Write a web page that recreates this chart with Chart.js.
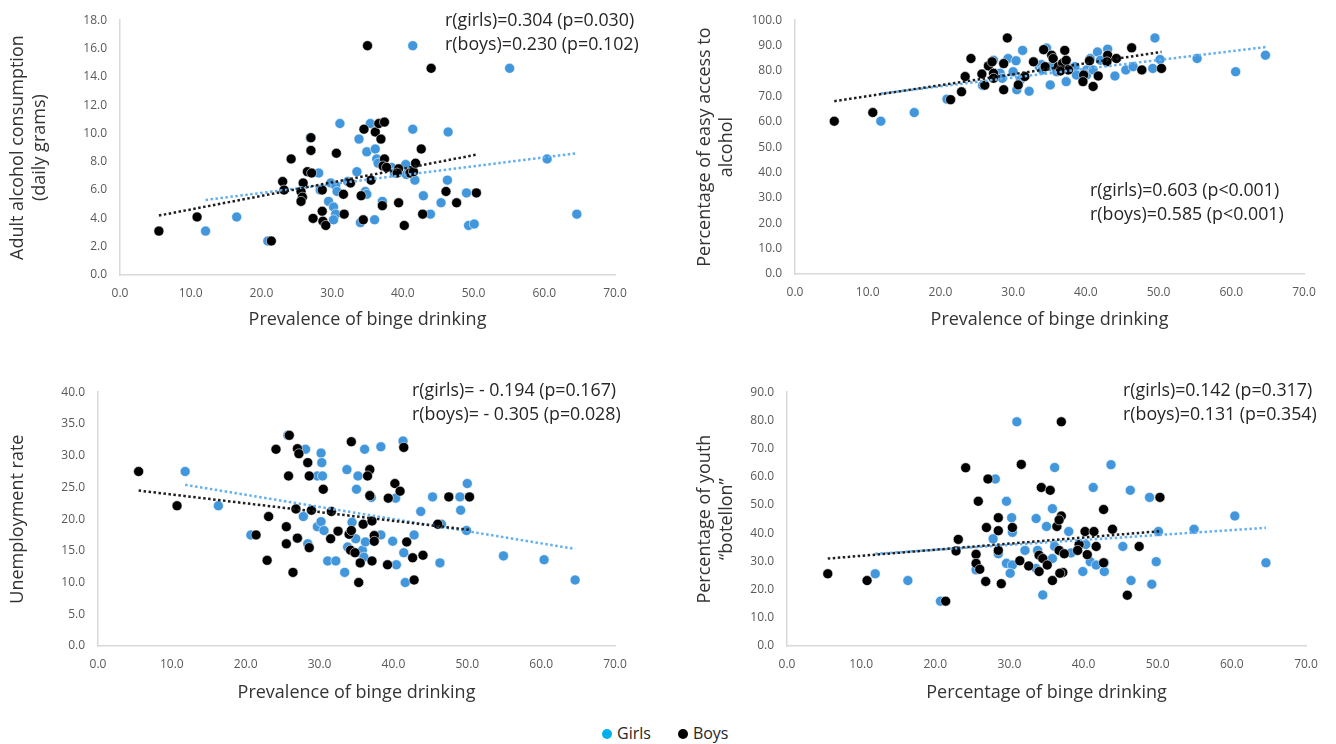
<!DOCTYPE html>
<html>
<head>
<meta charset="utf-8">
<script src="https://cdn.jsdelivr.net/npm/chart.js@4.4.1/dist/chart.umd.min.js"></script>
<style>
  body { margin: 0; background: #fff; width: 1336px; height: 744px; position: relative; overflow: hidden; font-family: 'Open Sans', 'Noto Sans', sans-serif; color: #262626; }
  canvas { position: absolute; }
  .note { position: absolute; font-size: 17.8px; line-height: 23.5px; white-space: nowrap; }
  .legend { position: absolute; top: 722px; left: 602px; font-size: 16px; line-height: 22px; white-space: nowrap; }
  .legend span.dot { display: inline-block; width: 10px; height: 10px; border-radius: 50%; margin-right: 5px; vertical-align: 0px; }
</style>
</head>
<body>
<canvas id="alcoholChart" width="668" height="340" style="left:0;top:0"></canvas>
<canvas id="accessChart" width="668" height="340" style="left:668px;top:0"></canvas>
<canvas id="unemploymentChart" width="668" height="340" style="left:0;top:372px"></canvas>
<canvas id="botellonChart" width="668" height="340" style="left:668px;top:372px"></canvas>

<div class="note" style="left:445px;top:8px">r(girls)=0.304 (p=0.030)<br>r(boys)=0.230 (p=0.102)</div>
<div class="note" style="left:1090px;top:178px">r(girls)=0.603 (p&lt;0.001)<br>r(boys)=0.585 (p&lt;0.001)</div>
<div class="note" style="left:412px;top:378px">r(girls)= - 0.194 (p=0.167)<br>r(boys)= - 0.305 (p=0.028)</div>
<div class="note" style="left:1123px;top:378px">r(girls)=0.142 (p=0.317)<br>r(boys)=0.131 (p=0.354)</div>

<div class="legend"><span class="dot" style="background:#00b0f0"></span>Girls<span style="display:inline-block;width:27px"></span><span class="dot" style="background:#000"></span>Boys</div>

<script>
// x axis is the same on every panel
const bingeTicks = [0, 10, 20, 30, 40, 50, 60, 70];

// Adult alcohol consumption (daily grams) vs binge drinking
const alcoholTicks = [0, 2, 4, 6, 8, 10, 12, 14, 16, 18];
const alcoholGirls = [[12.1,3.1],[16.5,4.1],[20.9,2.4],[26.9,9.7],[27.0,8.8],[28.1,7.2],[28.3,6.0],[29.8,6.5],[30.5,6.3],[30.7,5.9],[29.5,5.2],[30.2,4.8],[30.5,4.3],[30.2,3.9],[31.1,10.7],[32.2,6.6],[33.5,7.3],[33.8,9.6],[35.4,10.7],[34.9,8.7],[36.1,8.9],[36.3,8.2],[36.5,7.9],[38.4,7.6],[38.8,7.2],[40.4,7.8],[40.5,7.1],[41.7,6.7],[34.7,5.9],[34.9,5.7],[37.1,5.2],[34.0,3.7],[36.0,3.9],[41.4,10.3],[46.4,10.1],[46.3,6.7],[42.9,5.6],[45.4,5.1],[43.9,4.3],[49.0,5.8],[49.3,3.5],[50.1,3.6],[41.4,16.2],[55.1,14.6],[60.4,8.2],[64.6,4.3]];
const alcoholBoys = [[5.5,3.1],[10.9,4.1],[21.4,2.4],[23.0,6.6],[23.2,6.0],[24.2,8.2],[25.9,6.5],[25.6,5.9],[25.8,5.5],[25.6,5.2],[26.5,7.3],[27.1,7.2],[27.0,9.7],[27.0,8.8],[30.6,8.6],[28.6,6.0],[28.6,4.5],[27.3,4.0],[28.7,3.8],[29.1,3.5],[31.6,5.7],[31.7,4.3],[32.6,6.5],[34.1,5.6],[34.4,3.9],[34.5,10.3],[36.1,10.1],[36.6,10.7],[37.4,10.8],[36.9,9.6],[37.4,8.2],[37.2,7.7],[37.7,7.6],[35.5,6.7],[37.1,4.9],[39.4,7.5],[39.2,7.2],[41.0,7.2],[41.5,7.3],[41.8,7.9],[42.6,8.9],[39.4,5.1],[40.2,3.5],[42.8,4.3],[46.1,5.9],[47.6,5.1],[50.4,5.8],[35.0,16.2],[44.0,14.6]];
const alcoholTrendGirls = [[12.1,5.3],[64.6,8.6]];
const alcoholTrendBoys = [[5.5,4.2],[50.4,8.5]];

// Percentage of easy access to alcohol vs binge drinking
const accessTicks = [0, 10, 20, 30, 40, 50, 60, 70, 80, 90, 100];
const accessGirls = [[11.8,60.2],[16.4,63.6],[20.9,68.9],[25.8,74.3],[27.4,79.1],[27.3,84.2],[28.2,79.1],[28.5,77.1],[29.3,84.9],[30.0,79.7],[30.4,84.0],[31.3,88.1],[30.5,72.6],[32.2,72.0],[31.0,76.5],[33.6,81.7],[33.9,82.5],[34.0,80.4],[34.6,89.0],[35.1,81.7],[35.5,82.3],[35.1,74.5],[36.0,79.7],[37.3,75.8],[37.4,81.7],[37.5,80.4],[38.5,81.7],[38.7,78.4],[40.1,80.4],[40.1,78.4],[40.6,84.9],[41.0,80.4],[41.6,87.5],[42.0,84.2],[43.0,88.6],[44.0,78.0],[45.5,80.4],[46.5,81.7],[49.2,81.0],[50.2,84.5],[49.5,93.0],[55.3,84.9],[60.6,79.7],[64.7,86.2]];
const accessBoys = [[5.4,60.2],[10.7,63.6],[21.4,68.7],[22.9,71.8],[23.4,77.8],[24.2,84.9],[25.7,78.8],[26.1,74.4],[26.6,82.0],[27.1,83.6],[27.3,79.1],[27.3,77.1],[28.7,82.9],[28.7,72.6],[29.2,93.0],[30.7,74.5],[31.6,77.8],[32.8,83.6],[34.2,88.4],[34.4,81.7],[35.3,86.2],[35.5,84.9],[36.2,81.7],[36.8,83.0],[37.1,88.1],[37.3,84.2],[37.6,80.4],[36.5,80.0],[39.7,78.4],[39.6,75.8],[40.5,84.0],[41.0,73.9],[41.7,78.0],[43.0,86.2],[42.9,83.6],[44.2,84.9],[46.3,89.1],[47.7,80.4],[50.4,81.0]];
const accessTrendGirls = [[11.8,71.1],[64.7,89.4]];
const accessTrendBoys = [[5.4,68.1],[50.4,87.5]];

// Unemployment rate vs binge drinking
const unemploymentTicks = [0, 5, 10, 15, 20, 25, 30, 35, 40];
const unemploymentGirls = [[11.8,27.5],[16.3,22.1],[20.7,17.5],[25.7,33.2],[28.1,31.0],[27.0,17.0],[27.8,20.4],[29.7,26.8],[30.4,26.8],[30.2,30.4],[30.3,28.9],[28.4,16.1],[29.7,18.8],[30.2,19.6],[30.6,18.2],[31.1,13.4],[32.2,13.4],[33.4,11.6],[33.7,27.8],[35.2,26.8],[35.0,24.7],[36.1,31.0],[37.0,23.4],[34.4,19.5],[34.9,16.9],[33.8,15.6],[35.8,15.1],[36.0,14.0],[36.2,16.4],[38.3,31.4],[41.3,32.3],[40.3,23.3],[50.0,25.6],[45.3,23.5],[43.7,21.2],[49.1,21.4],[49.0,23.5],[46.5,19.2],[49.9,18.2],[42.8,17.5],[38.3,17.5],[39.9,16.5],[41.4,14.7],[46.3,13.1],[40.4,12.8],[41.6,10.0],[54.9,14.2],[60.4,13.6],[64.6,10.4]];
const unemploymentBoys = [[5.5,27.5],[10.7,22.1],[21.4,17.5],[23.1,20.4],[22.9,13.5],[24.1,31.0],[25.9,33.2],[25.8,26.8],[25.5,18.8],[25.5,16.1],[26.4,11.6],[26.8,21.6],[27.0,31.1],[27.2,30.3],[27.0,17.0],[28.4,28.9],[28.6,26.8],[28.9,21.4],[30.5,24.7],[28.6,15.5],[31.5,16.9],[31.6,21.2],[32.5,18.1],[34.3,32.2],[36.8,27.8],[36.5,26.8],[36.8,23.7],[34.0,17.6],[34.3,18.2],[34.2,15.1],[34.8,14.7],[35.5,13.1],[37.1,13.4],[35.3,10.0],[35.9,19.2],[37.1,19.7],[37.4,17.4],[37.4,16.5],[41.4,31.3],[40.2,25.6],[40.9,24.4],[39.3,23.3],[47.5,23.5],[50.3,23.5],[46.0,19.2],[41.8,16.4],[42.6,13.9],[44.0,14.3],[39.2,12.8],[42.8,10.4]];
const unemploymentTrendGirls = [[11.8,25.4],[64.6,15.3]];
const unemploymentTrendBoys = [[5.5,24.5],[50.3,18.3]];

// Percentage of youth "botellon" vs binge drinking
const botellonTicks = [0, 10, 20, 30, 40, 50, 60, 70, 80, 90];
const botellonGirls = [[11.9,25.6],[16.3,23.2],[20.7,15.9],[25.5,27.0],[26.8,22.9],[28.1,59.2],[27.8,38.0],[28.5,32.7],[29.6,51.3],[30.3,45.5],[30.4,40.3],[31.0,79.5],[29.6,29.3],[30.4,28.7],[30.1,25.8],[32.1,33.9],[33.6,45.2],[33.8,33.9],[36.1,63.3],[35.8,48.7],[35.0,42.4],[34.5,18.1],[33.6,27.5],[36.1,35.3],[35.8,31.0],[38.0,40.6],[43.7,64.3],[41.3,56.2],[46.3,55.2],[48.9,52.7],[60.4,46.1],[50.1,40.6],[54.9,41.4],[40.3,36.0],[45.3,35.3],[38.3,33.0],[40.9,29.9],[41.7,28.7],[42.8,29.5],[49.8,29.9],[64.6,29.5],[39.9,26.4],[42.8,26.4],[46.4,23.2],[49.2,21.9]];
const botellonBoys = [[5.5,25.6],[10.8,23.2],[21.4,15.9],[23.1,37.8],[22.8,33.7],[24.1,63.2],[25.8,51.3],[25.5,32.5],[25.5,29.3],[26.0,27.2],[26.8,22.9],[27.1,59.2],[26.9,42.0],[28.5,45.5],[28.5,40.9],[28.5,33.9],[28.9,22.1],[30.4,42.0],[31.6,64.4],[31.4,30.2],[32.6,28.4],[34.3,56.2],[35.5,55.2],[36.4,42.4],[37.0,46.1],[36.7,44.7],[34.0,32.2],[34.5,31.0],[35.1,28.7],[34.0,26.4],[35.8,23.2],[36.7,33.9],[37.4,32.7],[37.2,26.1],[37.0,79.5],[50.3,52.7],[42.7,48.4],[40.2,40.6],[41.4,40.6],[43.9,41.4],[39.4,36.0],[41.7,35.3],[39.2,33.9],[40.5,32.4],[47.5,35.3],[42.7,29.5],[36.8,25.8],[45.9,18.0]];
const botellonTrendGirls = [[11.9,32.7],[64.6,41.9]];
const botellonTrendBoys = [[5.5,31.0],[50.3,40.7]];

const FONT = "'Open Sans', 'Noto Sans', sans-serif";
const toXY = pairs => pairs.map(p => ({ x: p[0], y: p[1] }));
const fixedTicks = list => scale => { scale.ticks = list.map(v => ({ value: v })); };

function drawPanel(id, p) {
  new Chart(document.getElementById(id), {
    type: 'scatter',
    data: {
      datasets: [
        { data: toXY(p.trendBoys), showLine: true, borderColor: '#1e1e1e', borderWidth: 2.5, borderDash: [2.5, 2.5], pointRadius: 0, order: 0 },
        { data: toXY(p.trendGirls), showLine: true, borderColor: '#64b0f0', borderWidth: 2.5, borderDash: [2.5, 2.5], pointRadius: 0, order: 1 },
        { data: toXY(p.boys), backgroundColor: '#000000', borderColor: 'rgba(255,255,255,0.7)', borderWidth: 0.8, pointRadius: 5, order: 2 },
        { data: toXY(p.girls), backgroundColor: '#4196dc', borderColor: 'rgba(255,255,255,0.7)', borderWidth: 0.8, pointRadius: 5, order: 3 }
      ]
    },
    options: {
      responsive: false,
      animation: false,
      events: [],
      layout: { padding: { left: 0, right: p.padRight, top: p.padTop, bottom: 0 } },
      plugins: { legend: { display: false }, tooltip: { enabled: false } },
      scales: {
        x: {
          type: 'linear',
          min: bingeTicks[0],
          max: bingeTicks[bingeTicks.length - 1],
          afterBuildTicks: fixedTicks(bingeTicks),
          afterFit: s => { s.height = p.xHeight; },
          grid: { display: false, drawTicks: false },
          border: { display: true, color: '#d9d9d9', width: 1.5 },
          ticks: { padding: 11, color: '#595959', font: { family: FONT, size: 12 }, callback: v => v.toFixed(1), maxRotation: 0 },
          title: { display: true, text: p.xTitle, color: '#333333', font: { family: FONT, size: 18 }, padding: { top: 0, bottom: p.xTitlePad } }
        },
        y: {
          type: 'linear',
          min: p.yTicks[0],
          max: p.yTicks[p.yTicks.length - 1],
          afterBuildTicks: fixedTicks(p.yTicks),
          afterFit: s => { s.width = p.yWidth; },
          grid: { display: false, drawTicks: false },
          border: { display: true, color: '#d9d9d9', width: 1.5 },
          ticks: { padding: 13, color: '#595959', font: { family: FONT, size: 12 }, callback: v => v.toFixed(1) },
          title: { display: true, text: p.yTitle, color: '#333333', font: { family: FONT, size: 18 }, padding: { top: p.yTitlePad, bottom: 0 } }
        }
      }
    }
  });
}

drawPanel('alcoholChart', {
  girls: alcoholGirls, boys: alcoholBoys, trendGirls: alcoholTrendGirls, trendBoys: alcoholTrendBoys,
  yTicks: alcoholTicks, yTitle: ['Adult alcohol consumption', '(daily grams)'], xTitle: 'Prevalence of binge drinking',
  padRight: 53, padTop: 16, yWidth: 120, xHeight: 65, yTitlePad: 7, xTitlePad: 9
});
drawPanel('accessChart', {
  girls: accessGirls, boys: accessBoys, trendGirls: accessTrendGirls, trendBoys: accessTrendBoys,
  yTicks: accessTicks, yTitle: ['Percentage of easy access to', 'alcohol'], xTitle: 'Prevalence of binge drinking',
  padRight: 32, padTop: 16, yWidth: 127, xHeight: 66, yTitlePad: 26, xTitlePad: 9
});
drawPanel('unemploymentChart', {
  girls: unemploymentGirls, boys: unemploymentBoys, trendGirls: unemploymentTrendGirls, trendBoys: unemploymentTrendBoys,
  yTicks: unemploymentTicks, yTitle: 'Unemployment rate', xTitle: 'Prevalence of binge drinking',
  padRight: 53, padTop: 15, yWidth: 98, xHeight: 66, yTitlePad: 7, xTitlePad: 8
});
drawPanel('botellonChart', {
  girls: botellonGirls, boys: botellonBoys, trendGirls: botellonTrendGirls, trendBoys: botellonTrendBoys,
  yTicks: botellonTicks, yTitle: ['Percentage of youth', '\u201cbotellon\u201d'], xTitle: 'Percentage of binge drinking',
  padRight: 30, padTop: 15, yWidth: 119, xHeight: 66, yTitlePad: 26, xTitlePad: 8
});
</script>
</body>
</html>
